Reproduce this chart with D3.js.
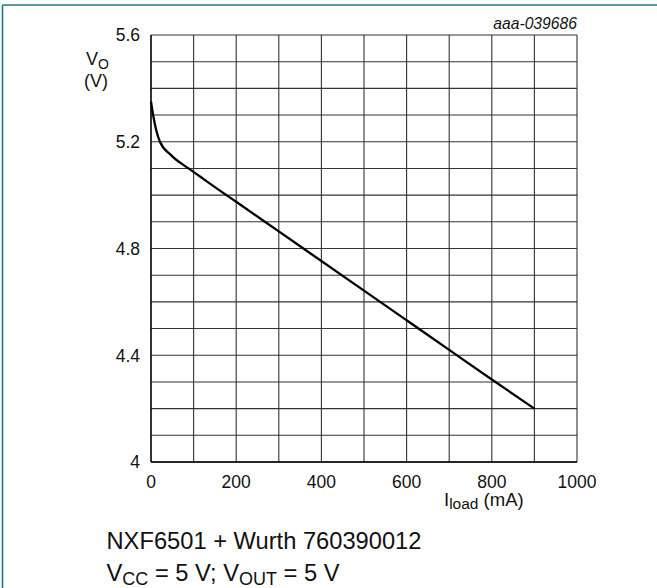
<!DOCTYPE html>
<html>
<head>
<meta charset="utf-8">
<script src="https://cdn.jsdelivr.net/npm/d3@7"></script>
<style>
  html, body { margin: 0; padding: 0; background: #fff; }
  svg { display: block; font-family: "Liberation Sans", Arial, sans-serif; }
</style>
</head>
<body>
<svg id="chart" width="657" height="588"></svg>
<script>
// Data
const loadCurrent = [0, 5, 12, 21, 47, 88, 115, 150, 200, 300, 400, 500, 600, 700, 800, 900];
const outputVoltage = [5.35, 5.30, 5.245, 5.20, 5.15, 5.10, 5.07, 5.03, 4.975, 4.864, 4.753, 4.642, 4.531, 4.42, 4.309, 4.20];
const xTickLabels = [0, 200, 400, 600, 800, 1000];
const yTickLabels = [4, 4.4, 4.8, 5.2, 5.6];
const xGrid = d3.range(0, 1001, 100);
const yGrid = d3.range(0, 17).map(i => 4 + i * 0.1);

const svg = d3.select("#chart");
const W = 657, H = 588;
const m = { left: 151, right: 577, top: 35, bottom: 462 };

const x = d3.scaleLinear().domain([0, 1000]).range([m.left, m.right]);
const y = d3.scaleLinear().domain([4, 5.6]).range([m.bottom, m.top]);

// teal frame
svg.append("line").attr("x1", 2.5).attr("x2", W).attr("y1", 5).attr("y2", 5)
  .attr("stroke", "#1f7b82").attr("stroke-width", 1.6);
svg.append("line").attr("x1", 2.5).attr("x2", 2.5).attr("y1", 5).attr("y2", H)
  .attr("stroke", "#1f7b82").attr("stroke-width", 1.6);

// grid
const g = svg.append("g");
g.selectAll("line.vx").data(xGrid).enter().append("line")
  .attr("x1", d => x(d)).attr("x2", d => x(d))
  .attr("y1", m.top).attr("y2", m.bottom)
  .attr("stroke", "#333").attr("stroke-width", 1.1);
g.selectAll("line.hy").data(yGrid).enter().append("line")
  .attr("x1", m.left).attr("x2", m.right)
  .attr("y1", d => y(d)).attr("y2", d => y(d))
  .attr("stroke", "#333").attr("stroke-width", 1.1);

// axis lines
svg.append("line").attr("x1", m.left).attr("x2", m.left).attr("y1", m.top).attr("y2", m.bottom)
  .attr("stroke", "#000").attr("stroke-width", 1.3);
svg.append("line").attr("x1", m.left).attr("x2", m.right).attr("y1", m.bottom).attr("y2", m.bottom)
  .attr("stroke", "#000").attr("stroke-width", 1.3);

// tick labels
svg.selectAll("text.yt").data(yTickLabels).enter().append("text")
  .attr("x", 140).attr("y", d => y(d) + 6.3)
  .attr("text-anchor", "end").attr("font-size", 17.5).attr("fill", "#111")
  .text(d => d3.format(".1f")(d).replace(/\.0$/, ""));
svg.selectAll("text.xt").data(xTickLabels).enter().append("text")
  .attr("x", d => x(d)).attr("y", 488)
  .attr("text-anchor", "middle").attr("font-size", 17.5).attr("fill", "#111")
  .text(d => d);

// curve
const pts = loadCurrent.map((v, i) => [v, outputVoltage[i]]);
svg.append("path").datum(pts)
  .attr("d", d3.line().x(d => x(d[0])).y(d => y(d[1])).curve(d3.curveMonotoneX))
  .attr("fill", "none").attr("stroke", "#000").attr("stroke-width", 2.3);

// code label
svg.append("text").attr("x", m.right).attr("y", 29).attr("text-anchor", "end")
  .attr("font-size", 15.7).attr("font-style", "italic").attr("fill", "#111").text("aaa-039686");

// y title
const yt = svg.append("text").attr("x", 86).attr("y", 65).attr("font-size", 18).attr("fill", "#111");
yt.append("tspan").text("V");
yt.append("tspan").attr("font-size", 14).attr("dy", 3.5).text("O");
svg.append("text").attr("x", 96).attr("y", 87).attr("text-anchor", "middle")
  .attr("font-size", 18).attr("fill", "#111").text("(V)");

// x title
const xt = svg.append("text").attr("x", 444).attr("y", 505.7).attr("font-size", 18.5).attr("fill", "#111");
xt.append("tspan").text("I");
xt.append("tspan").attr("font-size", 15.5).attr("dy", 3).text("load");
xt.append("tspan").attr("dy", -3).text(" (mA)");

// caption
svg.append("text").attr("x", 106.5).attr("y", 549).attr("font-size", 23.7).attr("fill", "#111")
  .text("NXF6501 + Wurth 760390012");
const c2 = svg.append("text").attr("x", 106.5).attr("y", 581).attr("font-size", 23.7).attr("fill", "#111");
c2.append("tspan").text("V");
c2.append("tspan").attr("font-size", 18).attr("dy", 4).text("CC");
c2.append("tspan").attr("dy", -4).text(" = 5 V; V");
c2.append("tspan").attr("font-size", 18).attr("dy", 4).text("OUT");
c2.append("tspan").attr("dy", -4).text(" = 5 V");
</script>
</body>
</html>
